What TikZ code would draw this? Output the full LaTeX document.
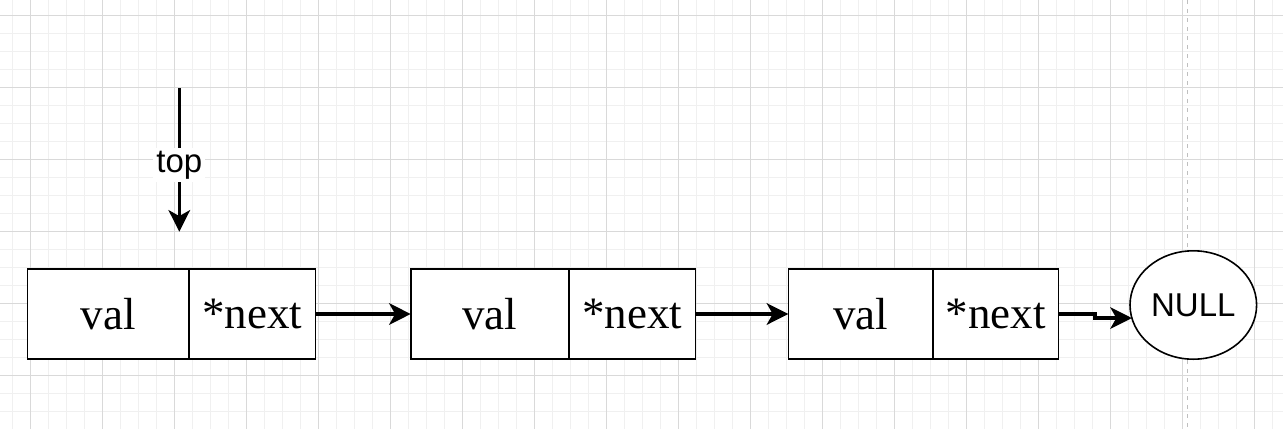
\documentclass[tikz,border=0pt]{standalone}
\usepackage{fontspec}
\setmainfont{Liberation Serif}
\newfontfamily\labelfont{Liberation Sans}
\usetikzlibrary{arrows.meta, positioning, shapes.geometric}
\colorlet{gridminor}{black!6}
\colorlet{gridmajor}{black!15}
\colorlet{pagegrey}{black!25}
\tikzset{
  cell/.style={draw, line width=0.8pt, fill=white, minimum height=44.85pt,
    inner sep=0pt, outer sep=0pt, font=\fontsize{22.5}{26}\selectfont},
  link/.style={line width=1.6pt, -{Stealth[length=10.8pt, width=10.8pt, inset=3pt]}},
  sanslabel/.style={font=\labelfont\fontsize{16.5}{19}\selectfont},
}

\begin{document}
\begin{tikzpicture}[x=0.5pt, y=-0.5pt]
                % page and grid
                \fill[white] (0,0) rectangle (1283,429);
                \useasboundingbox (0,0) rectangle (1283,429);
                \foreach \gx in {12.7, 30.7, ..., 1283}
                    \draw[gridminor, line width=0.5pt] (\gx,0) -- (\gx,429);
                \foreach \gy in {15.3, 33.3, ..., 429}
                    \draw[gridminor, line width=0.5pt] (0,\gy) -- (1283,\gy);
                \foreach \gx in {30.7, 102.7, ..., 1283}
                    \draw[gridmajor, line width=0.5pt] (\gx,0) -- (\gx,429);
                \foreach \gy in {15.3, 87.3, ..., 429}
                    \draw[gridmajor, line width=0.5pt] (0,\gy) -- (1283,\gy);
                \draw[pagegrey, line width=0.5pt, dash pattern=on 2pt off 2.5pt] (1187.7,0) -- (1187.7,429);

                % list nodes
                \node (v1) [cell, minimum width=80.85pt, anchor=west] at (27.3,314) {val};
                \node (n1) [cell, minimum width=63.15pt, right=0pt of v1] {*next};
                \node (v2) [cell, minimum width=79.15pt, right=47.7pt of n1] {val};
                \node (n2) [cell, minimum width=63.15pt, right=0pt of v2] {*next};
                \node (v3) [cell, minimum width=72.2pt, right=46.5pt of n2] {val};
                \node (n3) [cell, minimum width=62.8pt, right=0pt of v3] {*next};
                \node (null) [draw, ellipse, sanslabel, line width=0.8pt, fill=white,
                    minimum width=63.3pt, minimum height=54.2pt, inner sep=0pt, outer sep=0pt,
                    right=35.85pt of n3, yshift=4.5pt] {NULL};

                % top pointer
                \coordinate (ptrstart) at (179.3,88);
                \coordinate (ptrend) at (179.3,231.7);
                \draw[link] (ptrstart) -- node (toplabel) [sanslabel, fill=white, inner sep=1.5pt, yshift=-2.5pt] {top} (ptrend);

                \draw[link] (n1) -- (v2);
                \draw[link] (n2) -- (v3);
                \draw[link] (n3.east) -- ++(18.35pt,0) |- (null.192);
\end{tikzpicture}
\end{document}
